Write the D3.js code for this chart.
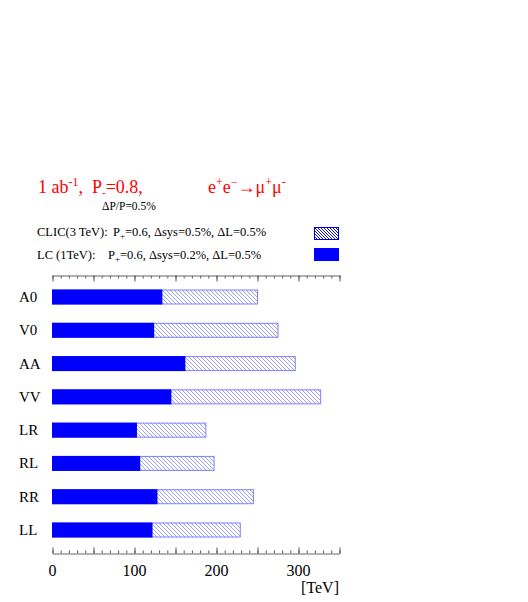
<!DOCTYPE html>
<html>
<head>
<meta charset="utf-8">
<script src="https://cdn.jsdelivr.net/npm/d3@7"></script>
<style>
	html, body { margin: 0; padding: 0; background: #fff; }
	svg { display: block; font-family: 'Liberation Serif', 'DejaVu Serif', serif; }
</style>
</head>
<body>
<script>
(function() {
	'use strict';

	// DATA //

	var categories = [ 'A0', 'V0', 'AA', 'VV', 'LR', 'RL', 'RR', 'LL' ],
		lcValues = [ 134, 124, 162, 145, 103, 107, 128, 122 ],
		clicValues = [ 250, 275, 296, 327, 187, 197, 245, 229 ],
		majorTicks = [ 0, 50, 100, 150, 200, 250, 300, 350 ],
		tickLabels = [ 0, 100, 200, 300 ];


	// FIGURE //

	var w = 528,
		h = 602,
		barH = 14,
		svg,
		defs,
		x,
		y,
		t;

	svg = d3.select( 'body' ).append( 'svg' )
		.attr( 'width', w )
		.attr( 'height', h );

	defs = svg.append( 'defs' );

	// Light hatching for the bars:
	defs.append( 'pattern' )
		.attr( 'id', 'hatch' )
		.attr( 'patternUnits', 'userSpaceOnUse' )
		.attr( 'width', 4 )
		.attr( 'height', 4 )
	  .append( 'path' )
		.attr( 'd', 'M-1,-1L5,5M-1,3L1,5M3,-1L5,1' )
		.attr( 'stroke', '#9494ff' )
		.attr( 'stroke-width', 0.9 );

	// Darker hatching for the legend box:
	defs.append( 'pattern' )
		.attr( 'id', 'hatchDark' )
		.attr( 'patternUnits', 'userSpaceOnUse' )
		.attr( 'width', 3 )
		.attr( 'height', 3 )
	  .append( 'path' )
		.attr( 'd', 'M-1,-1L4,4M-1,2L1,4M2,-1L4,1' )
		.attr( 'stroke', '#1010e0' )
		.attr( 'stroke-width', 1 );

	x = d3.scaleLinear()
		.domain( [ 0, 350 ] )
		.range( [ 52.5, 339.5 ] );

	y = d3.scalePoint()
		.domain( categories )
		.range( [ 297, 530 ] );


	// TITLE //

	t = svg.append( 'text' )
		.attr( 'x', 38 )
		.attr( 'y', 193 )
		.attr( 'fill', '#ff0000' )
		.attr( 'font-size', 18 );
	t.append( 'tspan' ).text( '1 ab' );
	t.append( 'tspan' ).attr( 'font-size', 12 ).attr( 'dy', -7 ).text( '-1' );
	t.append( 'tspan' ).attr( 'dy', 7 ).text( ',\u00a0\u00a0P' );
	t.append( 'tspan' ).attr( 'font-size', 11 ).attr( 'dy', 3 ).text( '-' );
	t.append( 'tspan' ).attr( 'dy', -3 ).text( '=0.8,' );

	svg.append( 'text' )
		.attr( 'x', 102 )
		.attr( 'y', 210 )
		.attr( 'font-size', 11.5 )
		.text( '\u0394P/P=0.5%' );

	t = svg.append( 'text' )
		.attr( 'x', 208 )
		.attr( 'y', 193 )
		.attr( 'fill', '#ff0000' )
		.attr( 'font-size', 18 );
	t.append( 'tspan' ).text( 'e' );
	t.append( 'tspan' ).attr( 'font-size', 12 ).attr( 'dy', -7 ).text( '+' );
	t.append( 'tspan' ).attr( 'dy', 7 ).text( 'e' );
	t.append( 'tspan' ).attr( 'font-size', 12 ).attr( 'dy', -7 ).text( '\u2212' );
	t.append( 'tspan' ).attr( 'dy', 7 ).text( '\u2192\u03bc' );
	t.append( 'tspan' ).attr( 'font-size', 12 ).attr( 'dy', -7 ).text( '+' );
	t.append( 'tspan' ).attr( 'dy', 7 ).text( '\u03bc' );
	t.append( 'tspan' ).attr( 'font-size', 12 ).attr( 'dy', -7 ).text( '-' );


	// LEGEND //

	function legendLine( yy, head, px, sys ) {
		var l = svg.append( 'text' )
			.attr( 'x', 37 )
			.attr( 'y', yy )
			.attr( 'font-size', 12.5 );
		l.append( 'tspan' ).text( head );
		l.append( 'tspan' ).attr( 'x', px ).text( 'P' );
		l.append( 'tspan' ).attr( 'font-size', 9 ).attr( 'dy', 3 ).text( '+' );
		l.append( 'tspan' ).attr( 'dy', -3 ).text( '=0.6, \u0394sys=' + sys + ', \u0394L=0.5%' );
	}
	legendLine( 236, 'CLIC(3 TeV):', 113, '0.5%' );
	legendLine( 259, 'LC (1TeV):', 108, '0.2%' );

	svg.append( 'rect' )
		.attr( 'x', 314.5 )
		.attr( 'y', 227.5 )
		.attr( 'width', 24 )
		.attr( 'height', 12 )
		.attr( 'fill', 'url(#hatchDark)' )
		.attr( 'stroke', '#0000cc' );

	svg.append( 'rect' )
		.attr( 'x', 314 )
		.attr( 'y', 248 )
		.attr( 'width', 25 )
		.attr( 'height', 13 )
		.attr( 'fill', '#0000ff' );


	// AXES //

	function axis( g, gen ) {
		g.call( gen );
		g.select( '.domain' ).attr( 'stroke', '#999' );
		g.selectAll( '.tick line' ).attr( 'stroke', '#555' );
		g.selectAll( '.tick text' ).remove();
	}

	// Top axis, ticks hanging down:
	svg.append( 'g' )
		.attr( 'transform', 'translate(0,275.5)' )
		.call( axis, d3.axisBottom( x ).tickValues( d3.range( 0, 351, 10 ) ).tickSize( 3 ).tickSizeOuter( 0 ) );
	svg.append( 'g' )
		.attr( 'transform', 'translate(0,275.5)' )
		.call( axis, d3.axisBottom( x ).tickValues( majorTicks ).tickSize( 6 ).tickSizeOuter( 0 ) );

	// Bottom axis, ticks pointing up:
	svg.append( 'g' )
		.attr( 'transform', 'translate(0,553.5)' )
		.call( axis, d3.axisTop( x ).tickValues( d3.range( 0, 351, 10 ) ).tickSize( 3 ).tickSizeOuter( 0 ) );
	svg.append( 'g' )
		.attr( 'transform', 'translate(0,553.5)' )
		.call( axis, d3.axisTop( x ).tickValues( majorTicks ).tickSize( 6 ).tickSizeOuter( 0 ) );

	svg.selectAll( 'text.tl' )
		.data( tickLabels )
	  .enter().append( 'text' )
		.attr( 'class', 'tl' )
		.attr( 'x', function ( d ) { return x( d ); } )
		.attr( 'y', 576 )
		.attr( 'text-anchor', 'middle' )
		.attr( 'font-size', 16 )
		.text( function ( d ) { return d; } );

	svg.append( 'text' )
		.attr( 'x', 339 )
		.attr( 'y', 593 )
		.attr( 'text-anchor', 'end' )
		.attr( 'font-size', 16 )
		.text( '[TeV]' );


	// BARS //

	svg.selectAll( 'rect.clic' )
		.data( clicValues )
	  .enter().append( 'rect' )
		.attr( 'class', 'clic' )
		.attr( 'x', x( 0 ) )
		.attr( 'y', function ( d, i ) { return y( categories[ i ] ) - barH/2; } )
		.attr( 'width', function ( d ) { return x( d ) - x( 0 ); } )
		.attr( 'height', barH )
		.attr( 'fill', 'url(#hatch)' )
		.attr( 'stroke', '#8080ff' )
		.attr( 'stroke-width', 1 );

	svg.selectAll( 'rect.lc' )
		.data( lcValues )
	  .enter().append( 'rect' )
		.attr( 'class', 'lc' )
		.attr( 'x', x( 0 ) - 0.5 )
		.attr( 'y', function ( d, i ) { return y( categories[ i ] ) - barH/2 - 0.5; } )
		.attr( 'width', function ( d ) { return x( d ) - x( 0 ) + 0.5; } )
		.attr( 'height', barH + 1 )
		.attr( 'fill', '#0000ff' );

	svg.selectAll( 'text.cat' )
		.data( categories )
	  .enter().append( 'text' )
		.attr( 'class', 'cat' )
		.attr( 'x', 19 )
		.attr( 'y', function ( d ) { return y( d ) + 5; } )
		.attr( 'font-size', 15 )
		.text( function ( d ) { return d; } );

})();
</script>
</body>
</html>
